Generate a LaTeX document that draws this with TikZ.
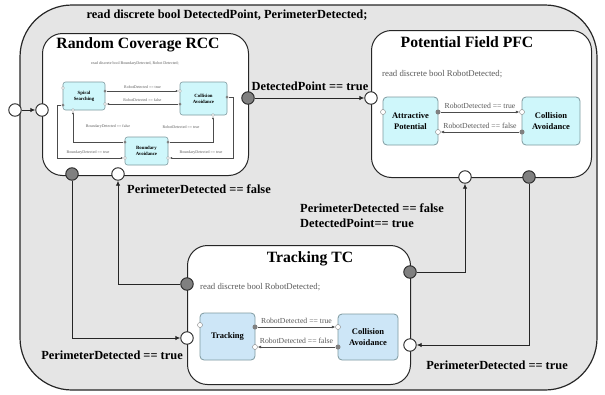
\documentclass[tikz,border=0pt]{standalone}
\usepackage{fontspec}
\setmainfont{Liberation Serif}
\usetikzlibrary{arrows.meta}
\definecolor{outerfill}{gray}{0.9}
\definecolor{cyanbox}{HTML}{CFF7FB}
\definecolor{bluebox}{HTML}{CDE6F7}
\definecolor{boxline}{HTML}{7F9AA0}
\definecolor{dark}{gray}{0.15}
\definecolor{minitext}{gray}{0.35}
\tikzset{
  wport/.style={circle,draw=dark,fill=white,line width=0.9pt,minimum size=12.5pt,inner sep=0pt},
  gport/.style={circle,draw=dark,fill=gray,line width=0.9pt,minimum size=12.5pt,inner sep=0pt},
  conn/.style={draw=dark,line width=0.9pt,-{Latex[length=5pt,width=4.5pt]}},
  lab/.style={font=\bfseries\fontsize{12.4}{15}\selectfont,inner sep=0pt},
  statebox/.style={draw=dark,line width=1pt,fill=white,rounded corners=20pt},
  titletext/.style={font=\bfseries\fontsize{15.7}{17}\selectfont,inner sep=0pt},
  inbox/.style={draw=boxline,fill=cyanbox,rounded corners=4pt,line width=0.8pt,align=center,font=\bfseries\fontsize{8.5}{10.5}\selectfont},
  minibox/.style={draw=boxline,fill=cyanbox,rounded corners=2.5pt,line width=0.6pt,align=center,font=\bfseries\fontsize{4.8}{5.8}\selectfont},
  dotg/.style={circle,fill=gray,inner sep=0pt,minimum size=5pt},
  dotw/.style={circle,draw=gray,fill=white,line width=0.4pt,inner sep=0pt,minimum size=5pt},
  sdotg/.style={circle,fill=gray,inner sep=0pt,minimum size=3pt},
  sdotw/.style={circle,draw=gray,fill=white,line width=0.3pt,inner sep=0pt,minimum size=3pt},
  inarr/.style={draw=gray!60!black,line width=0.6pt,-{Latex[length=3.5pt,width=3pt]}},
  miniarr/.style={draw=gray!60!black,line width=0.45pt,-{Latex[length=2.5pt,width=2pt]}},
  intext/.style={font=\fontsize{7.7}{9}\selectfont,text=minitext,inner sep=0pt},
  vartext/.style={font=\fontsize{8.8}{10}\selectfont,text=minitext,inner sep=0pt},
  minilab/.style={font=\fontsize{4}{5}\selectfont,text=minitext,inner sep=0pt},
}
\begin{document}
\begin{tikzpicture}[x=1pt,y=-1pt]
\useasboundingbox (0,0) rectangle (605,394);
% outer state
\draw[fill=outerfill,draw=dark,line width=1.2pt,rounded corners=52pt] (20,5) rectangle (597,390);
\node[lab] (gvar) at (227,15) {read discrete bool DetectedPoint, PerimeterDetected;};

% ---------------- RCC ----------------
\node[statebox,minimum width=206pt,minimum height=142pt,anchor=north west] (rcc) at (42,33) {};
\node[titletext] (rcct) at (138,45) {Random Coverage RCC};
\node[minilab] (rccvar) at (135,64) {read discrete bool BoundaryDetected, Robot Detected;};
\node[minibox,minimum width=42pt,minimum height=28pt] (spiral) at (84,96) {Spiral\\Searching};
\node[minibox,minimum width=47pt,minimum height=33pt] (rcoll) at (203.5,98.5) {Collision\\Avoidance};
\node[minibox,minimum width=43pt,minimum height=28pt] (bound) at (146.5,151) {Boundary\\Avoidance};
% mini dots
\node[sdotg] (s1) at (105,91) {};
\node[sdotw] (c1) at (180,91) {};
\node[sdotg] (c2) at (180,104) {};
\node[sdotw] (s2) at (105,104) {};
\node[sdotw] (s3) at (73,110) {};
\node[sdotg] (s4) at (63,105) {};
\node[sdotg] (b1) at (125,142) {};
\node[sdotg] (b2) at (168,142) {};
\node[sdotw] (b3) at (125,158) {};
\node[sdotw] (b4) at (168,158) {};
\node[sdotw] (c3) at (213,115) {};
\node[sdotg] (c4) at (227,97) {};
\node[sdotw] (s5) at (63,88) {};
\draw[miniarr] (s1) -- (c1) node[midway,above=2pt,minilab]{RobotDetected == true};
\draw[miniarr] (c2) -- (s2) node[midway,above=2pt,minilab]{RobotDetected == false};
\draw[miniarr] (b1) -| (s3);
\node[minilab] at (108,127) {BoundaryDetected == false};
\draw[miniarr] (b2) -| (c3);
\node[minilab] at (181,127) {RobotDetected == true};
\coordinate (sl) at (57,105);
\coordinate (cr) at (233,97);
\draw[miniarr] (s4) -- (sl) |- (b3);
\node[minilab] at (88,153) {BoundaryDetected == true};
\draw[miniarr] (c4) -- (cr) |- (b4);
\node[minilab] at (201,153) {BoundaryDetected == true};

% ---------------- PFC ----------------
\node[statebox,minimum width=220pt,minimum height=147pt,anchor=north west] (pfc) at (371,30) {};
\node[titletext] (pfct) at (467,42) {Potential Field PFC};
\node[vartext,anchor=west] (pfcvar) at (382,74) {read discrete bool RobotDetected;};
\node[inbox,minimum width=55pt,minimum height=48pt] (attr) at (410.5,121) {Attractive\\Potential};
\node[inbox,minimum width=58pt,minimum height=48pt] (pcoll) at (551,121) {Collision\\Avoidance};
\node[dotw] (a0) at (383,112) {};
\node[dotg] (a1) at (438,112) {};
\node[dotw] (p1) at (522,112) {};
\node[dotg] (p2) at (522,132) {};
\node[dotw] (a2) at (438,132) {};
\draw[inarr] (a1) -- (p1) node[midway,above=3pt,intext]{RobotDetected == true};
\draw[inarr] (p2) -- (a2) node[midway,above=3pt,intext]{RobotDetected == false};

% ---------------- TC ----------------
\node[statebox,minimum width=223pt,minimum height=139pt,anchor=north west] (tc) at (187,245) {};
\node[titletext] (tct) at (310,259) {Tracking TC};
\node[vartext,anchor=west] (tcvar) at (200,287) {read discrete bool RobotDetected;};
\node[inbox,fill=bluebox,minimum width=55pt,minimum height=47pt] (track) at (227.5,336.5) {Tracking};
\node[inbox,fill=bluebox,minimum width=60pt,minimum height=46pt] (tcoll) at (368,337) {Collision\\Avoidance};
\node[dotw] (t0) at (200,325) {};
\node[dotg] (t1) at (255,327) {};
\node[dotw] (q1) at (338,327) {};
\node[dotg] (q2) at (338,347) {};
\node[dotw] (t2) at (255,347) {};
\draw[inarr] (t1) -- (q1) node[midway,above=3pt,intext]{RobotDetected == true};
\draw[inarr] (q2) -- (t2) node[midway,above=3pt,intext]{RobotDetected == false};

% ---------------- ports ----------------
\node[wport] (outin) at (15,110) {};
\node[wport] (rccL) at (42,110) {};
\node[gport] (rccR) at (248,98) {};
\node[gport] (rccB1) at (72,174) {};
\node[wport] (rccB2) at (118,174) {};
\node[wport] (pfcL) at (371,98) {};
\node[wport] (pfcB1) at (465,177) {};
\node[gport] (pfcB2) at (529,177) {};
\node[gport] (tcL1) at (187,284) {};
\node[wport] (tcL2) at (187,338) {};
\node[gport] (tcR1) at (410,272) {};
\node[wport] (tcR2) at (410,345) {};

% ---------------- connectors ----------------
\draw[conn] (outin) -- (rccL);
\draw[conn] (rccR) -- (pfcL);
\node[lab] (l1) at (310,86) {DetectedPoint == true};
\draw[conn] (rccB1) |- (tcL2);
\node[lab] (l2) at (112,355) {PerimeterDetected == true};
\draw[conn] (tcL1) -| (rccB2);
\node[lab,anchor=west] (l3) at (127,189) {PerimeterDetected == false};
\draw[conn] (tcR1) -| (pfcB1);
\node[lab,anchor=west,align=left] (l4) at (300,215.5) {PerimeterDetected == false\\DetectedPoint== true};
\draw[conn] (pfcB2) |- (tcR2);
\node[lab] (l5) at (497,365) {PerimeterDetected == true};
\end{tikzpicture}
\end{document}
